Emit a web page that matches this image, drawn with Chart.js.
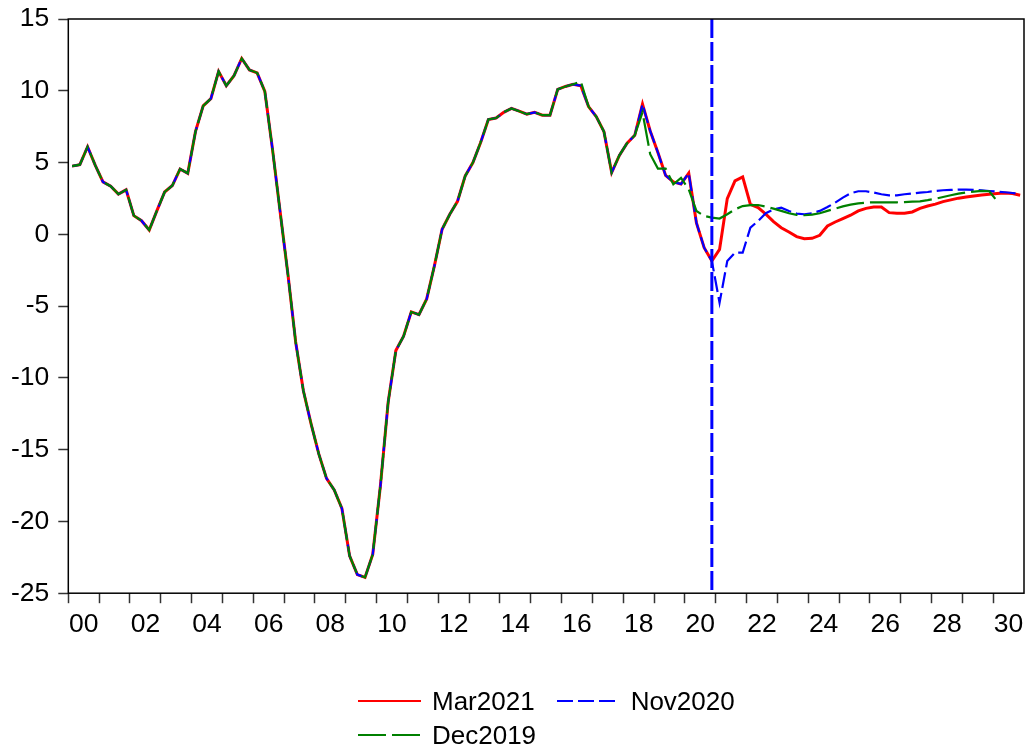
<!DOCTYPE html>
<html>
<head>
<meta charset="utf-8">
<script src="https://cdn.jsdelivr.net/npm/chart.js@4.4.1/dist/chart.umd.min.js"></script>
<style>
  body { margin: 0; background: #fff; }
  #wrap { position: relative; width: 1027px; height: 748px; }
  #legend { position: absolute; left: 358px; top: 684px; font-family: 'Liberation Sans', Arial, sans-serif; font-size: 26px; color: #000; }
  .row { display: flex; align-items: center; height: 34px; }
  .item { display: flex; align-items: center; margin-right: 22px; }
  .item svg { margin-right: 11px; }
</style>
</head>
<body>
<div id="wrap">
  <canvas id="chart" width="1027" height="748"></canvas>
  <div id="legend"></div>
</div>
<script>
// quarterly categories 2000Q1 .. 2030Q4
const firstYear = 2000;
const lastYear = 2030;
const quarters = [];
for (let y = firstYear; y <= lastYear; y++) {
  for (let q = 1; q <= 4; q++) quarters.push(y + 'Q' + q);
}

// shared history 2000Q1 .. 2016Q2
const history = [
  4.75, 4.85, 6.1, 4.8, 3.65, 3.35, 2.8, 3.1, 1.3, 0.95,
  0.3, 1.65, 2.95, 3.4, 4.55, 4.25, 7.15, 8.95, 9.45, 11.35,
  10.35, 11.05, 12.25, 11.45, 11.25, 9.95, 5.9, 1.5, -2.8, -7.5,
  -10.9, -13.2, -15.3, -17.0, -17.8, -19.1, -22.4, -23.7, -23.9, -22.3,
  -17.5, -11.7, -8.1, -7.1, -5.4, -5.6, -4.5, -2.2, 0.35, 1.4,
  2.3, 4.07, 5.0, 6.4, 8.0, 8.1, 8.5, 8.77, 8.58, 8.37,
  8.5, 8.3, 8.3, 10.1, 10.3, 10.45
];

// from 2016Q3 on
const mar2021Tail = [
  10.35, 8.9, 8.2, 7.15, 4.3, 5.5, 6.35, 6.9, 9.07, 7.2,
  5.7, 4.1, 3.65, 3.5, 4.26, 0.8, -0.93, -1.86, -1.05, 2.49,
  3.72, 4.0, 2.09, 1.86, 1.4, 0.88, 0.46, 0.16, -0.16, -0.3,
  -0.28, -0.07, 0.58, 0.86, 1.1, 1.33, 1.63, 1.81, 1.9, 1.9,
  1.51, 1.47, 1.47, 1.56, 1.81, 1.97, 2.1, 2.28, 2.4, 2.52,
  2.6, 2.67, 2.74, 2.79, 2.84, 2.88, 2.84, 2.72
];
const nov2020Tail = [
  10.35, 8.9, 8.2, 7.15, 4.3, 5.5, 6.35, 6.9, 9.07, 7.2,
  5.7, 4.1, 3.65, 3.5, 4.26, 0.8, -0.93, -1.86, -4.77, -1.86,
  -1.28, -1.28, 0.46, 0.93, 1.47, 1.74, 1.86, 1.63, 1.44, 1.4,
  1.47, 1.63, 1.9, 2.21, 2.56, 2.86, 3.0, 3.0, 2.91, 2.79,
  2.72, 2.72, 2.79, 2.84, 2.91, 2.95, 3.02, 3.07, 3.09, 3.12,
  3.12, 3.09, 3.07, 3.02, 2.98, 2.93, 2.88, 2.81
];
const dec2019Tail = [
  10.65, 8.9, 8.2, 7.15, 4.3, 5.5, 6.35, 6.9, 8.5, 5.58,
  4.58, 4.58, 3.49, 3.93, 3.14, 1.63, 1.28, 1.16, 1.1, 1.4,
  1.74, 1.97, 2.04, 2.04, 1.93, 1.79, 1.63, 1.47, 1.35, 1.33,
  1.37, 1.47, 1.63, 1.79, 1.95, 2.07, 2.16, 2.21, 2.23, 2.23,
  2.23, 2.23, 2.25, 2.28, 2.3, 2.38, 2.48, 2.6, 2.72, 2.83,
  2.92, 2.98, 3.02, 3.0, 2.32
];

const seriesNames = ['Mar2021', 'Nov2020', 'Dec2019'];
const yTicks = [-25, -20, -15, -10, -5, 0, 5, 10, 15];
const markerQuarter = '2020Q4';

const datasets = [
  { label: seriesNames[0], data: history.concat(mar2021Tail), borderColor: '#ff0000', borderWidth: 3, borderDash: [], order: 3 },
  { label: seriesNames[1], data: history.concat(nov2020Tail), borderColor: '#0000ff', borderWidth: 2.2, borderDash: [16, 5], order: 2 },
  { label: seriesNames[2], data: history.concat(dec2019Tail), borderColor: '#008000', borderWidth: 2.2, borderDash: [28, 6], order: 1 }
];

// plot frame + vertical marker
const framePlugin = {
  id: 'frame',
  afterDatasetsDraw(chart) {
    const { ctx, chartArea: a, scales } = chart;
    ctx.save();
    const x = scales.x.getPixelForValue(quarters.indexOf(markerQuarter));
    ctx.strokeStyle = '#0000ff';
    ctx.lineWidth = 3;
    ctx.setLineDash([19, 4]);
    ctx.beginPath();
    ctx.moveTo(x, a.top);
    ctx.lineTo(x, a.bottom);
    ctx.stroke();
    ctx.setLineDash([]);
    ctx.strokeStyle = '#000';
    ctx.lineWidth = 1.5;
    ctx.strokeRect(a.left, a.top, a.right - a.left, a.bottom - a.top);
    ctx.restore();
  }
};

const axisFont = { family: "'Liberation Sans', Arial, sans-serif", size: 26.5 };

const chart = new Chart(document.getElementById('chart').getContext('2d'), {
  type: 'line',
  data: { labels: quarters, datasets: datasets },
  options: {
    responsive: false,
    animation: false,
    layout: { padding: { left: 2, right: 3, top: 19, bottom: 101 } },
    plugins: { legend: { display: false }, tooltip: { enabled: false } },
    elements: { point: { radius: 0 }, line: { tension: 0, fill: false } },
    scales: {
      x: {
        type: 'category',
        offset: true,
        border: { display: false },
        grid: {
          offset: true,
          drawOnChartArea: false,
          tickLength: 10,
          tickWidth: 1.5,
          tickColor: (c) => (c.index % 4 === 0 ? '#333' : 'rgba(0,0,0,0)')
        },
        ticks: {
          autoSkip: false,
          maxRotation: 0,
          minRotation: 0,
          labelOffset: 3.86,
          padding: 6,
          color: '#000',
          font: axisFont,
          callback: function (val, i) {
            return i % 8 === 1 ? this.getLabelForValue(val).slice(2, 4) : '';
          }
        }
      },
      y: {
        min: -25,
        max: 15,
        border: { display: false },
        grid: { drawOnChartArea: false, tickLength: 10, tickWidth: 1.5, tickColor: '#333' },
        afterBuildTicks: (axis) => { axis.ticks = yTicks.map(v => ({ value: v })); },
        afterFit: (axis) => { axis.paddingTop = 0; axis.paddingBottom = 0; },
        ticks: { padding: 9, color: '#000', font: axisFont }
      }
    }
  },
  plugins: [framePlugin]
});

// legend below the plot, two entries on the first row
const legendRows = [[0, 1], [2]];
const legend = document.getElementById('legend');
legendRows.forEach(row => {
  const r = document.createElement('div');
  r.className = 'row';
  row.forEach(i => {
    const ds = datasets[i];
    const item = document.createElement('div');
    item.className = 'item';
    const dash = ds.borderDash.length ? ds.borderDash.join(' ') : 'none';
    item.innerHTML = '<svg width="63" height="10"><line x1="0" y1="5" x2="63" y2="5" stroke="' + ds.borderColor +
      '" stroke-width="2" stroke-dasharray="' + dash + '"/></svg><span>' + ds.label + '</span>';
    r.appendChild(item);
  });
  legend.appendChild(r);
});
</script>
</body>
</html>
